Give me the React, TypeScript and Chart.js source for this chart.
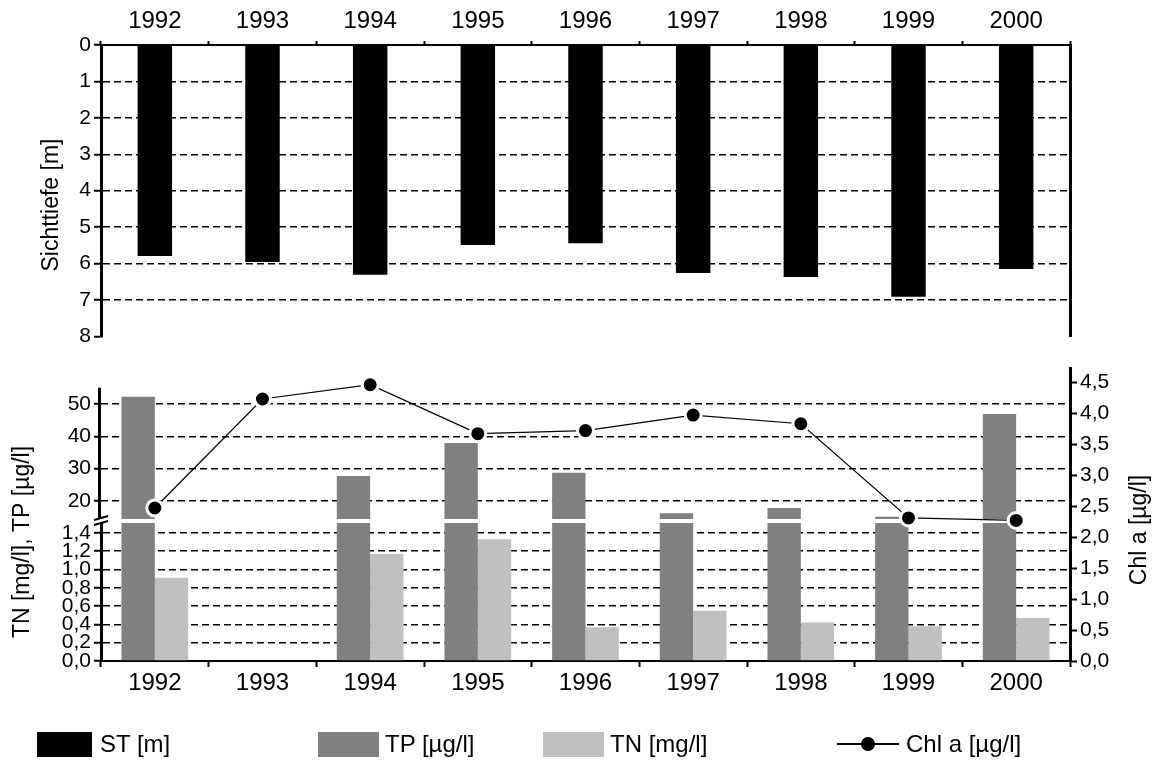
import React, { useEffect, useRef } from 'react';
import { Chart, registerables } from 'chart.js';

Chart.register(...registerables);

// ---------------- data ----------------
const YEARS = ['1992', '1993', '1994', '1995', '1996', '1997', '1998', '1999', '2000'];
const ST_VALUES = [5.79, 5.96, 6.31, 5.49, 5.44, 6.26, 6.37, 6.91, 6.15];
const TP_VALUES = [52.2, null, 27.7, 37.9, 28.7, 16.2, 17.8, 15.1, 46.9];
const TN_VALUES = [0.91, null, 1.17, 1.33, 0.37, 0.55, 0.42, 0.38, 0.47];
const CHLA_VALUES = [2.47, 4.23, 4.46, 3.67, 3.72, 3.97, 3.83, 2.31, 2.27];

const ST_TICKS = [0, 1, 2, 3, 4, 5, 6, 7, 8];
const TP_TICKS = [20, 30, 40, 50];
const TP_AXIS_TOP = 55;
const TN_TICKS = [0, 0.2, 0.4, 0.6, 0.8, 1.0, 1.2, 1.4];
const CHLA_TICKS = [0, 0.5, 1, 1.5, 2, 2.5, 3, 3.5, 4, 4.5];

const ST_LABEL = 'ST [m]';
const TP_LABEL = 'TP [µg/l]';
const TN_LABEL = 'TN [mg/l]';
const CHLA_LABEL = 'Chl a [µg/l]';
const TITLE_TOP = 'Sichttiefe [m]';
const TITLE_LEFT = 'TN [mg/l], TP [µg/l]';
const TITLE_RIGHT = 'Chl a [µg/l]';

const COLOR_ST = '#000000';
const COLOR_TP = '#808080';
const COLOR_TN = '#c0c0c0';

// ---------------- styles ----------------
const FAMILY = '"Liberation Sans", Arial, sans-serif';
const TICK_FONT = { family: FAMILY, size: 21 };
const CAT_FONT = { family: FAMILY, size: 24 };
const DASH = [7, 4];
const comma = (v: number) => v.toFixed(1).replace('.', ',');

const setTicks = (list: number[]) => (s: any) => {
  s.ticks = list.map((v) => ({ value: v }));
};

const titlePlugin = (items: { text: string; x: number; y: number }[]) => ({
  id: 'axisTitles',
  afterDraw(chart: any) {
    const ctx = chart.ctx;
    ctx.save();
    ctx.font = `23px ${FAMILY}`;
    ctx.fillStyle = '#000';
    ctx.textAlign = 'center';
    ctx.textBaseline = 'middle';
    for (const it of items) {
      ctx.save();
      ctx.translate(it.x, it.y);
      ctx.rotate(-Math.PI / 2);
      ctx.fillText(it.text, 0, 0);
      ctx.restore();
    }
    ctx.restore();
  },
});

const breakPlugin = {
  id: 'axisBreak',
  beforeDatasetDraw(chart: any, args: any) {
    if (args.index !== 0) return;
    const b = chart.scales.yLow.top;
    const area = chart.chartArea;
    const ctx = chart.ctx;
    ctx.save();
    ctx.fillStyle = '#fff';
    ctx.fillRect(area.left + 3, b - 2, area.right - area.left - 6, 4);
    ctx.restore();
  },
  afterDraw(chart: any) {
    const s = chart.scales.yLow;
    const hi = chart.scales.yHigh;
    const b = s.top;
    const x = s.right;
    const ctx = chart.ctx;
    ctx.save();
    // upper segment of the left axis, ending at its top value
    ctx.strokeStyle = '#000';
    ctx.lineWidth = 3;
    ctx.beginPath();
    ctx.moveTo(hi.right - 1.5, hi.getPixelForValue(TP_AXIS_TOP));
    ctx.lineTo(hi.right - 1.5, hi.bottom);
    ctx.stroke();
    // break marks
    ctx.fillStyle = '#fff';
    ctx.fillRect(x - 6, b - 2, 12, 4);
    ctx.lineWidth = 2;
    ctx.beginPath();
    ctx.moveTo(x - 7, b - 1);
    ctx.lineTo(x + 7, b - 5);
    ctx.moveTo(x - 7, b + 4);
    ctx.lineTo(x + 7, b);
    ctx.stroke();
    ctx.restore();
  },
};

const TOP_W = 1156;
const TOP_H = 352;
const BOT_TOP = 352;
const BOT_H = 414;

export default function App() {
  const topRef = useRef<HTMLCanvasElement>(null);
  const botRef = useRef<HTMLCanvasElement>(null);

  useEffect(() => {
    const top = new Chart(topRef.current as HTMLCanvasElement, {
      type: 'bar',
      data: {
        labels: YEARS,
        datasets: [
          {
            label: ST_LABEL,
            data: ST_VALUES,
            backgroundColor: COLOR_ST,
            categoryPercentage: 1,
            barPercentage: 0.32,
            yAxisID: 'y',
          },
        ],
      },
      options: {
        responsive: false,
        animation: false,
        layout: { padding: { top: 0, left: 0, right: 0, bottom: 14 } },
        plugins: { legend: { display: false }, tooltip: { enabled: false } },
        scales: {
          x: {
            position: 'top',
            grid: { display: true, drawOnChartArea: false, tickLength: 4, tickColor: '#000', tickWidth: 2 },
            border: { color: '#000', width: 2 },
            ticks: { font: CAT_FONT, color: '#000', padding: 5, maxRotation: 0, autoSkip: false },
            afterFit: (s: any) => {
              s.height = 45;
            },
          },
          y: {
            position: 'left',
            reverse: true,
            min: 0,
            max: 8,
            afterBuildTicks: setTicks(ST_TICKS),
            ticks: { font: TICK_FONT, color: '#000', padding: 3, autoSkip: false },
            grid: {
              color: (c: any) => (c.tick && (c.tick.value === 0 || c.tick.value === 8) ? 'rgba(0,0,0,0)' : '#000'),
              lineWidth: 1.5,
              tickColor: '#000',
              tickLength: 7,
              tickWidth: 2,
            },
            border: { color: '#000', width: 3, dash: DASH },
            afterFit: (s: any) => {
              s.width = 101;
            },
          },
          yR: {
            position: 'right',
            reverse: true,
            min: 0,
            max: 8,
            ticks: { display: false },
            grid: { display: false },
            border: { color: '#000', width: 3 },
            afterFit: (s: any) => {
              s.width = 86;
            },
          },
        },
      } as any,
      plugins: [titlePlugin([{ text: TITLE_TOP, x: 52, y: 205 }])],
    });

    const barCommon = { categoryPercentage: 0.62, barPercentage: 1, order: 1 };
    const bottom = new Chart(botRef.current as HTMLCanvasElement, {
      type: 'bar',
      data: {
        labels: YEARS,
        datasets: [
          {
            type: 'line',
            label: CHLA_LABEL,
            data: CHLA_VALUES,
            yAxisID: 'yChl',
            borderColor: '#000',
            borderWidth: 1.2,
            pointRadius: 8,
            pointBorderWidth: 3,
            pointBorderColor: '#fff',
            pointBackgroundColor: '#000',
            tension: 0,
            order: 0,
          },
          { label: TP_LABEL, data: TP_VALUES, yAxisID: 'yHigh', stack: 'tp', backgroundColor: COLOR_TP, ...barCommon },
          { label: TP_LABEL, data: TP_VALUES, yAxisID: 'yLow', stack: 'tp', backgroundColor: COLOR_TP, ...barCommon },
          { label: TN_LABEL, data: TN_VALUES, yAxisID: 'yLow', stack: 'tn', backgroundColor: COLOR_TN, ...barCommon },
        ],
      } as any,
      options: {
        responsive: false,
        animation: false,
        layout: { padding: { top: 16, left: 0, right: 0, bottom: 65 } },
        plugins: { legend: { display: false }, tooltip: { enabled: false } },
        scales: {
          x: {
            position: 'bottom',
            grid: { display: true, drawOnChartArea: false, tickLength: 6, tickColor: '#000', tickWidth: 2 },
            border: { color: '#000', width: 2 },
            ticks: { font: CAT_FONT, color: '#000', padding: 2, maxRotation: 0, autoSkip: false },
            afterFit: (s: any) => {
              s.height = 40;
            },
          },
          yLow: {
            position: 'left',
            stack: 'left',
            stackWeight: 140,
            min: 0,
            max: 1.53,
            afterBuildTicks: setTicks(TN_TICKS),
            ticks: { font: TICK_FONT, color: '#000', padding: 3, autoSkip: false, callback: (v: any) => comma(Number(v)) },
            grid: {
              color: (c: any) => (c.tick && c.tick.value === 0 ? 'rgba(0,0,0,0)' : '#000'),
              lineWidth: 1.5,
              tickColor: '#000',
              tickLength: 7,
              tickWidth: 2,
            },
            border: { color: '#000', width: 3, dash: DASH },
            afterFit: (s: any) => {
              s.width = 101;
            },
          },
          yHigh: {
            position: 'left',
            stack: 'left',
            stackWeight: 153,
            min: 13.8,
            max: 61.1,
            afterBuildTicks: setTicks(TP_TICKS),
            ticks: { font: TICK_FONT, color: '#000', padding: 3, autoSkip: false },
            grid: { color: '#000', lineWidth: 1.5, tickColor: '#000', tickLength: 7, tickWidth: 2 },
            border: { display: false, dash: DASH },
            afterFit: (s: any) => {
              s.width = 101;
            },
          },
          yChl: {
            position: 'right',
            min: 0,
            max: 4.73,
            afterBuildTicks: setTicks(CHLA_TICKS),
            ticks: { font: TICK_FONT, color: '#000', padding: 3, autoSkip: false, callback: (v: any) => comma(Number(v)) },
            grid: { display: true, drawOnChartArea: false, tickColor: '#000', tickLength: 7, tickWidth: 2 },
            border: { color: '#000', width: 3 },
            afterFit: (s: any) => {
              s.width = 86;
            },
          },
        },
      } as any,
      plugins: [
        breakPlugin,
        titlePlugin([
          { text: TITLE_LEFT, x: 23, y: 542 - BOT_TOP },
          { text: TITLE_RIGHT, x: 1140, y: 530 - BOT_TOP },
        ]),
      ],
    });

    return () => {
      top.destroy();
      bottom.destroy();
    };
  }, []);

  const legendText: React.CSSProperties = {
    position: 'absolute',
    top: 730,
    height: 28,
    lineHeight: '28px',
    fontFamily: FAMILY,
    fontSize: 24,
    color: '#000',
    whiteSpace: 'nowrap',
  };
  const box = (left: number, width: number, color: string): React.CSSProperties => ({
    position: 'absolute',
    left,
    top: 732,
    width,
    height: 25,
    background: color,
  });

  return (
    <div style={{ position: 'absolute', left: 0, top: 0, width: 1156, height: 766, background: '#fff' }}>
      <canvas
        ref={topRef}
        width={TOP_W}
        height={TOP_H}
        style={{ position: 'absolute', left: 0, top: 0, width: TOP_W, height: TOP_H }}
      />
      <canvas
        ref={botRef}
        width={TOP_W}
        height={BOT_H}
        style={{ position: 'absolute', left: 0, top: BOT_TOP, width: TOP_W, height: BOT_H }}
      />
      <div style={box(37, 55, COLOR_ST)} />
      <div style={{ ...legendText, left: 100 }}>{ST_LABEL}</div>
      <div style={box(318, 61, COLOR_TP)} />
      <div style={{ ...legendText, left: 385 }}>{TP_LABEL}</div>
      <div style={box(543, 61, COLOR_TN)} />
      <div style={{ ...legendText, left: 610 }}>{TN_LABEL}</div>
      <div style={{ position: 'absolute', left: 837, top: 743, width: 62, height: 2, background: '#000' }} />
      <div
        style={{
          position: 'absolute',
          left: 861,
          top: 737,
          width: 14,
          height: 14,
          borderRadius: '50%',
          background: '#000',
        }}
      />
      <div style={{ ...legendText, left: 906 }}>{CHLA_LABEL}</div>
    </div>
  );
}
